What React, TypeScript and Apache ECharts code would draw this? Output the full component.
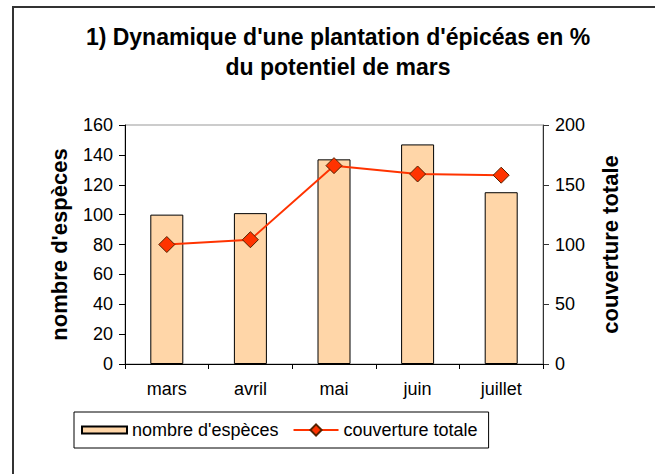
import React, { useEffect, useRef } from "react";
import * as echarts from "echarts";

const categories = ["mars", "avril", "mai", "juin", "juillet"];
const especes = [100, 101, 137, 147, 115];
const couverture = [100, 104, 166, 159, 158];
const titleText = "1) Dynamique d'une plantation d'épicéas en %\ndu potentiel de mars";
const seriesNames = ["nombre d'espèces", "couverture totale"];

const FONT = "Liberation Sans, Arial, sans-serif";

export default function App() {
  const ref = useRef<HTMLDivElement>(null);
  useEffect(() => {
    const chart = echarts.init(ref.current!, null, { renderer: "svg" });
    chart.setOption({
      animation: false,
      backgroundColor: "#ffffff",
      textStyle: { fontFamily: FONT },
      title: {
        text: titleText,
        left: 333,
        top: 17,
        textAlign: "center",
        textStyle: {
          fontFamily: FONT,
          fontSize: 23,
          fontWeight: "bold",
          color: "#000",
          lineHeight: 30,
        },
      },
      graphic: [
        {
          type: "rect",
          shape: { x: 13, y: 7, width: 800, height: 600 },
          style: { fill: "none", stroke: "#333", lineWidth: 2 },
          silent: true,
        },
      ],
      legend: {
        left: 74,
        top: 412,
        orient: "horizontal",
        borderColor: "#000",
        borderWidth: 1,
        padding: [9, 11, 9, 7],
        itemWidth: 45,
        itemHeight: 14,
        itemGap: 14,
        textStyle: { fontFamily: FONT, fontSize: 18, color: "#000" },
        data: [
          { name: seriesNames[0], icon: "path://M0,0H45V7H0Z" },
          { name: seriesNames[1] },
        ],
      },
      grid: {
        left: 125,
        right: 112,
        top: 125,
        bottom: 110,
        show: true,
        borderColor: "#999",
        borderWidth: 1,
        backgroundColor: "transparent",
      },
      xAxis: {
        type: "category",
        data: categories,
        axisLine: { lineStyle: { color: "#000", width: 1 } },
        axisTick: { show: true, length: 5, alignWithLabel: false, lineStyle: { color: "#000" } },
        axisLabel: { fontFamily: FONT, fontSize: 18, color: "#000", margin: 16 },
      },
      yAxis: [
        {
          type: "value",
          min: 0,
          max: 160,
          interval: 20,
          position: "left",
          name: seriesNames[0],
          nameLocation: "middle",
          nameRotate: 90,
          nameGap: 55,
          nameTextStyle: { fontFamily: FONT, fontSize: 22, fontWeight: "bold", color: "#000" },
          axisLine: { show: true, lineStyle: { color: "#000" } },
          axisTick: { show: true, length: 6, lineStyle: { color: "#000" } },
          splitLine: { show: false },
          axisLabel: { fontFamily: FONT, fontSize: 18, color: "#000", margin: 12 },
        },
        {
          type: "value",
          min: 0,
          max: 200,
          interval: 50,
          position: "right",
          name: seriesNames[1],
          nameLocation: "middle",
          nameRotate: 90,
          nameGap: 56,
          nameTextStyle: { fontFamily: FONT, fontSize: 22, fontWeight: "bold", color: "#000" },
          axisLine: { show: true, lineStyle: { color: "#333" } },
          axisTick: { show: true, length: 6, lineStyle: { color: "#333" } },
          splitLine: { show: false },
          axisLabel: { fontFamily: FONT, fontSize: 18, color: "#000", margin: 12 },
        },
      ],
      series: [
        {
          name: seriesNames[0],
          type: "bar",
          yAxisIndex: 0,
          data: especes,
          barWidth: 33,
          itemStyle: { color: "#FFD6A8", borderColor: "#000", borderWidth: 1 },
        },
        {
          name: seriesNames[1],
          type: "line",
          yAxisIndex: 1,
          data: couverture,
          symbol: "diamond",
          symbolSize: 16,
          lineStyle: { color: "#FF3300", width: 2 },
          itemStyle: { color: "#FF3300", borderColor: "#552200", borderWidth: 1 },
        },
      ],
    });
    return () => chart.dispose();
  }, []);
  return (
    <div
      ref={ref}
      style={{ position: "fixed", left: 0, top: 0, width: 655, height: 474 }}
    />
  );
}
